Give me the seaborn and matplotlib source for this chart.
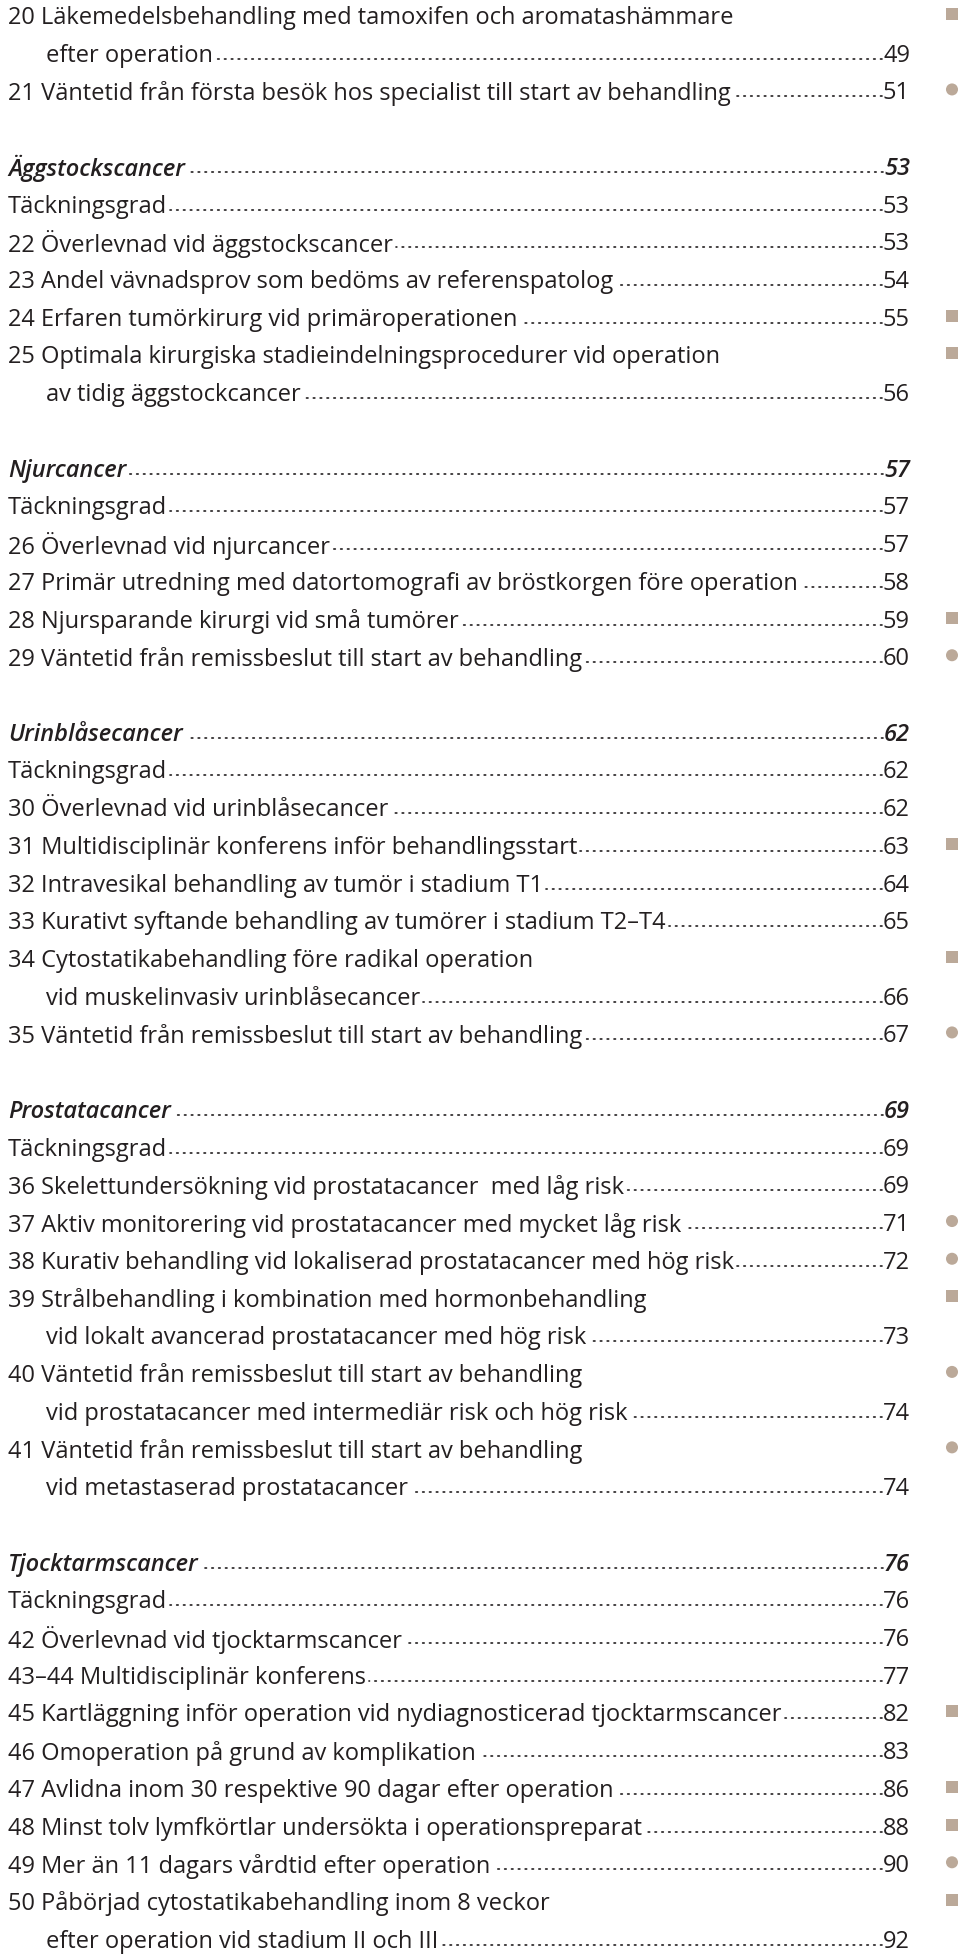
import numpy as np
import pandas as pd
import seaborn as sns
import matplotlib.pyplot as plt

# table of contents lines, '' is an empty line
rows = [
    "20 Läkemedelsbehandling med tamoxifen och aromatashämmare",
    "efter operation",
    "21 Väntetid från första besök hos specialist till start av behandling",
    "",
    "Äggstockscancer",
    "Täckningsgrad",
    "22 Överlevnad vid äggstockscancer",
    "23 Andel vävnadsprov som bedöms av referenspatolog",
    "24 Erfaren tumörkirurg vid primäroperationen",
    "25 Optimala kirurgiska stadieindelningsprocedurer vid operation",
    "av tidig äggstockcancer",
    "",
    "Njurcancer",
    "Täckningsgrad",
    "26 Överlevnad vid njurcancer",
    "27 Primär utredning med datortomografi av bröstkorgen före operation",
    "28 Njursparande kirurgi vid små tumörer",
    "29 Väntetid från remissbeslut till start av behandling",
    "",
    "Urinblåsecancer",
    "Täckningsgrad",
    "30 Överlevnad vid urinblåsecancer",
    "31 Multidisciplinär konferens inför behandlingsstart",
    "32 Intravesikal behandling av tumör i stadium T1",
    "33 Kurativt syftande behandling av tumörer i stadium T2–T4",
    "34 Cytostatikabehandling före radikal operation",
    "vid muskelinvasiv urinblåsecancer",
    "35 Väntetid från remissbeslut till start av behandling",
    "",
    "Prostatacancer",
    "Täckningsgrad",
    "36 Skelettundersökning vid prostatacancer  med låg risk",
    "37 Aktiv monitorering vid prostatacancer med mycket låg risk",
    "38 Kurativ behandling vid lokaliserad prostatacancer med hög risk",
    "39 Strålbehandling i kombination med hormonbehandling",
    "vid lokalt avancerad prostatacancer med hög risk",
    "40 Väntetid från remissbeslut till start av behandling",
    "vid prostatacancer med intermediär risk och hög risk",
    "41 Väntetid från remissbeslut till start av behandling",
    "vid metastaserad prostatacancer",
    "",
    "Tjocktarmscancer",
    "Täckningsgrad",
    "42 Överlevnad vid tjocktarmscancer",
    "43–44 Multidisciplinär konferens",
    "45 Kartläggning inför operation vid nydiagnosticerad tjocktarmscancer",
    "46 Omoperation på grund av komplikation",
    "47 Avlidna inom 30 respektive 90 dagar efter operation",
    "48 Minst tolv lymfkörtlar undersökta i operationspreparat",
    "49 Mer än 11 dagars vårdtid efter operation",
    "50 Påbörjad cytostatikabehandling inom 8 veckor",
    "efter operation vid stadium II och III",
]

pages = [
    None, "49", "51", None,
    "53", "53", "53", "54", "55", None, "56", None,
    "57", "57", "57", "58", "59", "60", None,
    "62", "62", "62", "63", "64", "65", None, "66", "67", None,
    "69", "69", "69", "71", "72", None, "73", None, "74", None, "74", None,
    "76", "76", "76", "77", "82", "83", "86", "88", "90", None, "92",
]

marks = [
    "square", None, "circle", None,
    None, None, None, None, "square", "square", None, None,
    None, None, None, None, "square", "circle", None,
    None, None, None, "square", None, None, "square", None, "circle", None,
    None, None, None, "circle", "circle", "square", None, "circle", None, "circle", None, None,
    None, None, None, None, "square", None, "square", "square", "circle", "square", None,
]

section_titles = ["Äggstockscancer", "Njurcancer", "Urinblåsecancer",
                  "Prostatacancer", "Tjocktarmscancer"]

TEXT = "#231f20"
MARK = "#bba999"
FONT = ["Open Sans", "DejaVu Sans"]

sns.set_theme(style="white")
plt.rcParams["font.family"] = FONT

fig = plt.figure(figsize=(9.6, 19.56), dpi=100)
ax = fig.add_axes([0, 0, 1, 1])
ax.set_xlim(0, 960)
ax.set_ylim(1956, 0)
ax.axis("off")

top, step = 15, 37.72
left, indent, right = 8, 46, 910
fs = 17

fig.canvas.draw()
renderer = fig.canvas.get_renderer()
inv = ax.transData.inverted()

for i, (txt, pg) in enumerate(zip(rows, pages)):
    if not txt:
        continue
    y = top + i * step
    head = txt in section_titles
    x = indent if txt[0].islower() else left
    style = "italic" if head else "normal"
    weight = "semibold" if head else "normal"
    t = ax.text(x, y, txt, fontsize=fs, color=TEXT, style=style, weight=weight,
                ha="left", va="center_baseline")
    if pg is None:
        continue
    p = ax.text(right, y, pg, fontsize=fs, color=TEXT, style=style, weight=weight,
                ha="right", va="center_baseline")
    # leader dots between title and page number
    tb = t.get_window_extent(renderer)
    pb = p.get_window_extent(renderer)
    x0 = inv.transform((tb.x1, 0))[0] + 3
    x1 = inv.transform((pb.x0, 0))[0] - 1
    base = y + 7
    ax.plot([x1, x0], [base, base], color=TEXT, lw=1.2,
            linestyle=(0, (0.9, 3.2)), dash_capstyle="round")

mk = pd.DataFrame({
    "x": 952,
    "y": [top + i * step for i, m in enumerate(marks) if m],
    "shape": [m for m in marks if m],
})
sns.scatterplot(data=mk, x="x", y="y", style="shape",
                markers={"square": "s", "circle": "o"},
                color=MARK, s=75, linewidth=0, legend=False, ax=ax)
ax.set_xlim(0, 960)
ax.set_ylim(1956, 0)
ax.axis("off")

fig.savefig("out.png", dpi=100, facecolor="white")
